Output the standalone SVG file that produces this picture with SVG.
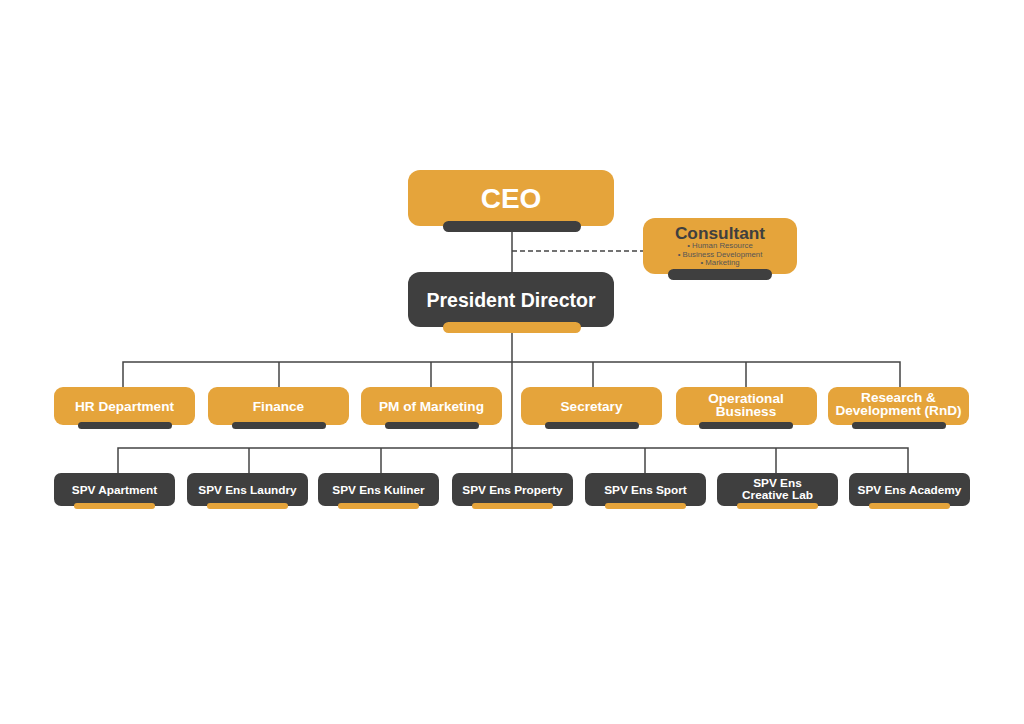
<svg xmlns="http://www.w3.org/2000/svg" width="1024" height="724" viewBox="0 0 1024 724">
<style>
.o{fill:#E5A43B}
.d{fill:#3F3F3F}
.ln{stroke:#444;stroke-width:1.5;fill:none}
.t{font-family:"Liberation Sans",Arial,sans-serif;font-weight:bold;text-anchor:middle}
.s{font-family:"Liberation Sans",Arial,sans-serif;font-weight:normal;text-anchor:middle;font-size:7.8px;fill:#555}
.w{fill:#fff}
.g{fill:#3F3F3F}
</style>
<rect width="1024" height="724" fill="#fff"/>
<g id="connectors">
<line class="ln" x1="512" y1="230" x2="512" y2="474"/>
<line class="ln" x1="512" y1="251" x2="643" y2="251" stroke-dasharray="5,3"/>
<polyline class="ln" points="123,388 123,362 900,362 900,388"/>
<line class="ln" x1="279" y1="362" x2="279" y2="388"/>
<line class="ln" x1="431" y1="362" x2="431" y2="388"/>
<line class="ln" x1="593" y1="362" x2="593" y2="388"/>
<line class="ln" x1="746" y1="362" x2="746" y2="388"/>
<polyline class="ln" points="118,474 118,448 908,448 908,474"/>
<line class="ln" x1="249" y1="448" x2="249" y2="474"/>
<line class="ln" x1="381" y1="448" x2="381" y2="474"/>
<line class="ln" x1="645" y1="448" x2="645" y2="474"/>
<line class="ln" x1="776" y1="448" x2="776" y2="474"/>
</g>
<g id="ceo">
<rect class="o" x="408" y="170" width="206" height="56" rx="12"/>
<rect class="d" x="443" y="221" width="138" height="11" rx="5.5"/>
<text class="t w" x="511" y="208" font-size="28">CEO</text>
</g>
<g id="consultant">
<rect class="o" x="643" y="218" width="154" height="56" rx="12"/>
<rect class="d" x="668" y="269" width="104" height="11" rx="5.5"/>
<text class="t g" x="720" y="239" font-size="17.3">Consultant</text>
<text class="s" x="720" y="248">• Human Resource</text>
<text class="s" x="720" y="256.5">• Business Development</text>
<text class="s" x="720" y="265">• Marketing</text>
</g>
<g id="president">
<rect class="d" x="408" y="272" width="206" height="55" rx="12"/>
<rect class="o" x="443" y="322" width="138" height="11" rx="5.5"/>
<text class="t w" x="511" y="306.5" font-size="19.5">President Director</text>
</g>
<g id="hr"><rect class="o" x="54" y="387" width="141" height="38" rx="9"/><rect class="d" x="78" y="422" width="94" height="7" rx="3.5"/><text class="t w" x="124.5" y="411" font-size="13.6">HR Department</text></g>
<g id="finance"><rect class="o" x="208" y="387" width="141" height="38" rx="9"/><rect class="d" x="232" y="422" width="94" height="7" rx="3.5"/><text class="t w" x="278.5" y="411" font-size="13.6">Finance</text></g>
<g id="pm"><rect class="o" x="361" y="387" width="141" height="38" rx="9"/><rect class="d" x="385" y="422" width="94" height="7" rx="3.5"/><text class="t w" x="431.5" y="411" font-size="13.6">PM of Marketing</text></g>
<g id="secretary"><rect class="o" x="521" y="387" width="141" height="38" rx="9"/><rect class="d" x="545" y="422" width="94" height="7" rx="3.5"/><text class="t w" x="591.5" y="411" font-size="13.6">Secretary</text></g>
<g id="operational"><rect class="o" x="676" y="387" width="141" height="38" rx="9"/><rect class="d" x="699" y="422" width="94" height="7" rx="3.5"/><text class="t w" x="746" y="403" font-size="13.6">Operational</text><text class="t w" x="746" y="416" font-size="13.6">Business</text></g>
<g id="rnd"><rect class="o" x="828" y="387" width="141" height="38" rx="9"/><rect class="d" x="852" y="422" width="94" height="7" rx="3.5"/><text class="t w" x="898.5" y="402" font-size="13.6">Research &amp;</text><text class="t w" x="898.5" y="415" font-size="13.6">Development (RnD)</text></g>
<g id="spv-apartment"><rect class="d" x="54" y="473" width="121" height="33" rx="7"/><rect class="o" x="74" y="503" width="81" height="6" rx="3"/><text class="t w" x="114.5" y="494" font-size="11.8">SPV Apartment</text></g>
<g id="spv-laundry"><rect class="d" x="187" y="473" width="121" height="33" rx="7"/><rect class="o" x="207" y="503" width="81" height="6" rx="3"/><text class="t w" x="247.5" y="494" font-size="11.8">SPV Ens Laundry</text></g>
<g id="spv-kuliner"><rect class="d" x="318" y="473" width="121" height="33" rx="7"/><rect class="o" x="338" y="503" width="81" height="6" rx="3"/><text class="t w" x="378.5" y="494" font-size="11.8">SPV Ens Kuliner</text></g>
<g id="spv-property"><rect class="d" x="452" y="473" width="121" height="33" rx="7"/><rect class="o" x="472" y="503" width="81" height="6" rx="3"/><text class="t w" x="512.5" y="494" font-size="11.8">SPV Ens Property</text></g>
<g id="spv-sport"><rect class="d" x="585" y="473" width="121" height="33" rx="7"/><rect class="o" x="605" y="503" width="81" height="6" rx="3"/><text class="t w" x="645.5" y="494" font-size="11.8">SPV Ens Sport</text></g>
<g id="spv-creative"><rect class="d" x="717" y="473" width="121" height="33" rx="7"/><rect class="o" x="737" y="503" width="81" height="6" rx="3"/><text class="t w" x="777.5" y="487" font-size="11.8">SPV Ens</text><text class="t w" x="777.5" y="499" font-size="11.8">Creative Lab</text></g>
<g id="spv-academy"><rect class="d" x="849" y="473" width="121" height="33" rx="7"/><rect class="o" x="869" y="503" width="81" height="6" rx="3"/><text class="t w" x="909.5" y="494" font-size="11.8">SPV Ens Academy</text></g>
</svg>
